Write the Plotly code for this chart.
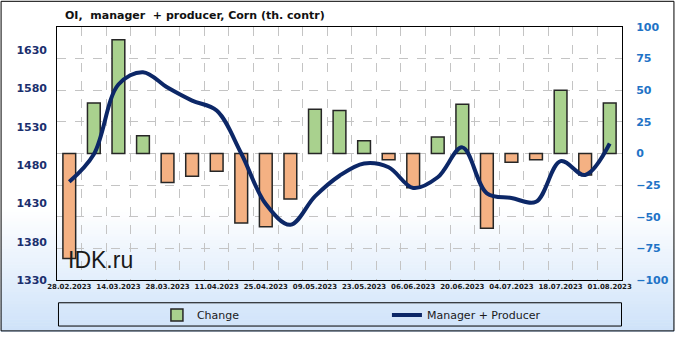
import plotly.graph_objects as go

dates = ["28.02.2023", "07.03.2023", "14.03.2023", "21.03.2023", "28.03.2023", "04.04.2023",
         "11.04.2023", "18.04.2023", "25.04.2023", "02.05.2023", "09.05.2023", "16.05.2023",
         "23.05.2023", "30.05.2023", "06.06.2023", "13.06.2023", "20.06.2023", "27.06.2023",
         "04.07.2023", "11.07.2023", "18.07.2023", "25.07.2023", "01.08.2023"]
change = [-83, 40, 90, 14, -23, -18, -14, -55, -58, -36, 35, 34, 10, -5, -27, 13, 39, -59, -7, -5, 50, -17, 40]
manager_producer = [1458, 1494, 1585, 1601, 1581, 1564, 1551, 1495, 1429, 1402, 1439, 1466, 1482, 1477,
                    1450, 1464, 1503, 1443, 1437, 1432, 1485, 1467, 1508]
left_ticks = [1330, 1380, 1430, 1480, 1530, 1580, 1630]
right_ticks = [-100, -75, -50, -25, 0, 25, 50, 75, 100]

W, H = 681, 341
ML, MR, MT, MB = 57, 53, 27, 53
PW, PH = W - ML - MR, H - MT - MB

def px_x(p):
    return (p - ML) / PW

def px_y(p):
    return (H - MB - p) / PH

idx = list(range(len(dates)))
pos_change = [v if v >= 0 else None for v in change]
neg_change = [v if v < 0 else None for v in change]

fig = go.Figure()
fig.add_trace(go.Bar(
    x=idx, y=pos_change, name="Change", yaxis="y", width=0.52,
    marker=dict(color="#a9d18e", line=dict(color="#262626", width=1.5)),
))
fig.add_trace(go.Bar(
    x=idx, y=neg_change, name="Change", yaxis="y", width=0.52, showlegend=False,
    marker=dict(color="#f4b183", line=dict(color="#262626", width=1.5)),
))
fig.add_trace(go.Scatter(
    x=idx, y=manager_producer, name="Manager + Producer", yaxis="y2", mode="lines",
    line=dict(color="#0c2767", width=4, shape="spline", smoothing=1.0),
))

shapes = []
# background gradient
y_start, y_end = 215, H
n = 40
c0 = (255, 255, 255)
c1 = (206, 226, 249)
for i in range(n):
    t = (i + 0.5) / n
    col = tuple(round(c0[k] + (c1[k] - c0[k]) * t) for k in range(3))
    a = y_start + (y_end - y_start) * i / n
    b = y_start + (y_end - y_start) * (i + 1) / n + 0.6
    shapes.append(dict(type="rect", xref="paper", yref="paper", layer="below",
                       x0=px_x(0), x1=px_x(W), y0=px_y(b), y1=px_y(a),
                       line=dict(width=0), fillcolor="rgb(%d,%d,%d)" % col))
# legend box
shapes.append(dict(type="rect", xref="paper", yref="paper", layer="below",
                   x0=px_x(58.5), x1=px_x(627.5), y0=px_y(335.5), y1=px_y(311.5),
                   line=dict(color="#000000", width=1), fillcolor="rgba(0,0,0,0)"))
# outer border
shapes.append(dict(type="rect", xref="paper", yref="paper", layer="above",
                   x0=px_x(0.5), x1=px_x(680.5), y0=px_y(340.5), y1=px_y(0.5),
                   line=dict(color="#000000", width=1), fillcolor="rgba(0,0,0,0)"))

tick_text = [d if i % 2 == 0 else "" for i, d in enumerate(dates)]

fig.update_layout(
    width=W, height=H,
    margin=dict(l=ML, r=MR, t=MT, b=MB, pad=0),
    paper_bgcolor="white", plot_bgcolor="rgba(0,0,0,0)",
    shapes=shapes,
    showlegend=True,
    barmode="overlay",
    legend=dict(orientation="h", x=px_x(158), xanchor="left", y=px_y(324), yanchor="middle",
                entrywidth=185, entrywidthmode="pixels", bgcolor="rgba(0,0,0,0)",
                font=dict(family="DejaVu Sans", size=11, color="#1a1a1a"), traceorder="normal",
                itemwidth=30),
    xaxis=dict(
        range=[-0.5, len(dates) - 0.5], tickmode="array", tickvals=idx, ticktext=tick_text,
        tickangle=0, ticks="", showgrid=False, zeroline=False,
        showline=True, mirror=True, linecolor="#000000", linewidth=1,
        tickfont=dict(family="DejaVu Sans", size=7, color="#1a1a1a", weight="bold"),
        minor=dict(tickmode="array", tickvals=[i + 0.5 for i in idx[:-1]], showgrid=True,
                   gridcolor="#c4c4c4", griddash="dash", gridwidth=1, ticks=""),
    ),
    yaxis=dict(
        side="right", range=[-100, 100], tickmode="array", tickvals=right_ticks,
        showgrid=True, gridcolor="#c4c4c4", griddash="dash", gridwidth=1, zeroline=False,
        showline=True, mirror=True, linecolor="#000000", linewidth=1, ticks="",
        ticklabelstandoff=11,
        tickfont=dict(family="DejaVu Sans", size=11, color="#1f73c6", weight="bold"),
    ),
    yaxis2=dict(
        side="left", overlaying="y", range=[1330, 1660], tickmode="array", tickvals=left_ticks,
        showgrid=False, zeroline=False, ticks="", ticklabelstandoff=9,
        tickfont=dict(family="DejaVu Sans", size=11, color="#1b2f6e", weight="bold"),
    ),
    annotations=[
        dict(text="OI,  manager  + producer, Corn (th. contr)", xref="paper", yref="paper",
             x=px_x(63), y=px_y(15), xanchor="left", yanchor="middle", showarrow=False,
             font=dict(family="DejaVu Sans", size=11, color="#111111", weight="bold")),
        dict(text="IDK.ru", xref="paper", yref="paper",
             x=px_x(66), y=px_y(267), xanchor="left", yanchor="middle", showarrow=False,
             font=dict(family="Liberation Sans", size=23, color="#1a1a1a")),
    ],
)

fig.write_html("out.html")
